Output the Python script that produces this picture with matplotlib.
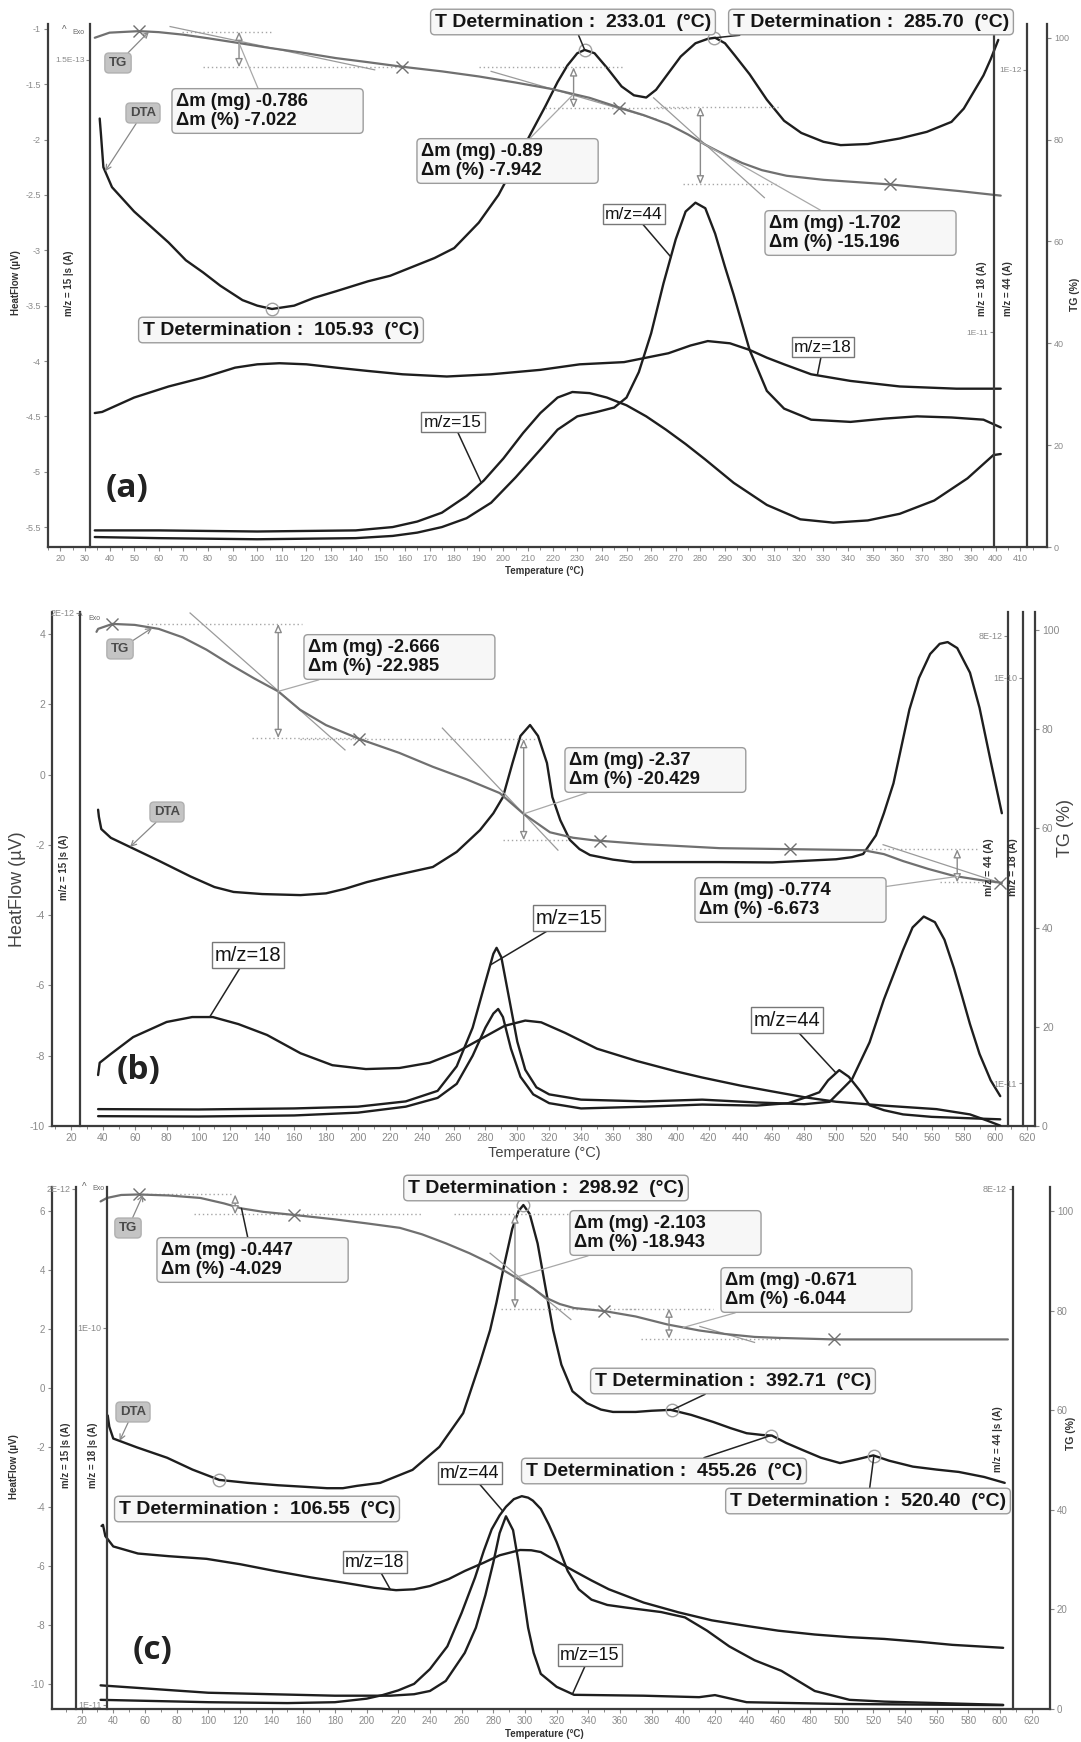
import numpy as np
import matplotlib
matplotlib.use("Agg")
import matplotlib.pyplot as plt

plt.rcParams['font.family'] = ['Liberation Sans', 'DejaVu Sans']
plt.rcParams['axes.unicode_minus'] = False

# ======================= DATA =======================
# ---------- panel (a) ----------
a_dta_T = [36, 36.5, 37.5, 41, 50, 57, 64, 71, 78, 85, 94, 100, 106, 115, 123, 132, 145, 154, 163, 172,
           180, 190, 198, 204, 211, 217, 222, 226, 230, 233, 237, 242, 248, 253, 258, 262, 267, 272, 278,
           283, 286, 290, 294, 300, 307, 314, 321, 330, 337, 348, 361, 372, 382, 387, 391, 395, 398, 401]
a_dta = [-1.81, -1.95, -2.25, -2.43, -2.65, -2.79, -2.93, -3.09, -3.2, -3.32, -3.45, -3.5, -3.53, -3.5,
         -3.43, -3.37, -3.28, -3.23, -3.15, -3.07, -2.98, -2.75, -2.5, -2.25, -1.95, -1.7, -1.48, -1.33,
         -1.22, -1.19, -1.22, -1.35, -1.52, -1.6, -1.62, -1.55, -1.4, -1.25, -1.13, -1.09, -1.08, -1.13,
         -1.24, -1.41, -1.64, -1.83, -1.94, -2.02, -2.05, -2.04, -1.99, -1.93, -1.84, -1.72, -1.57, -1.42,
         -1.27, -1.1]
a_tg_T = [34, 40, 52, 60, 70, 80, 92, 105, 118, 132, 145, 159, 175, 190, 205, 220, 235, 247, 257, 267,
          275, 282, 290, 297, 305, 315, 330, 345, 357, 370, 385, 402]
a_tg = [100.0, 101.0, 101.3, 101.1, 100.6, 99.9, 99.0, 98.0, 97.1, 96.0, 95.2, 94.3, 93.4, 92.4, 91.2,
        89.9, 88.2, 86.3, 84.8, 83.0, 81.0, 79.0, 77.0, 75.4, 74.0, 72.9, 72.1, 71.6, 71.2, 70.6, 69.9, 69.0]
a_m15_T = [34, 60, 100, 140, 155, 165, 175, 185, 192, 200, 208, 215, 222, 228, 235, 242, 250, 258, 266,
           274, 282, 293.5, 307, 320.6, 334, 348, 361, 375, 388.5, 399, 402]
a_m15 = [-5.53, -5.53, -5.54, -5.53, -5.5, -5.45, -5.37, -5.22, -5.08, -4.88, -4.65, -4.47, -4.33, -4.28,
         -4.29, -4.33, -4.4, -4.5, -4.62, -4.75, -4.89, -5.10, -5.30, -5.43, -5.46, -5.44, -5.38, -5.26,
         -5.06, -4.85, -4.84]
a_m44_T = [34, 60, 100, 140, 155, 165, 175, 185, 195, 205, 215, 222, 230, 238, 245, 250, 255, 260, 265,
           270, 274, 278, 282, 286, 290, 293.5, 300, 307, 314, 325, 341, 355, 368, 382, 395, 402]
a_m44 = [-5.59, -5.6, -5.61, -5.6, -5.58, -5.55, -5.5, -5.42, -5.28, -5.05, -4.8, -4.62, -4.5, -4.46,
         -4.42, -4.33, -4.1, -3.75, -3.3, -2.9, -2.65, -2.57, -2.62, -2.85, -3.15, -3.40, -3.90, -4.27,
         -4.43, -4.53, -4.55, -4.52, -4.50, -4.51, -4.53, -4.60]
a_m18_T = [34, 37, 50, 64, 78, 91, 100, 109, 120, 132, 145, 159, 177, 195, 215, 231, 249, 267, 276, 283,
           292, 300, 307, 314, 325, 341, 361, 384, 402]
a_m18 = [-4.47, -4.46, -4.33, -4.23, -4.15, -4.06, -4.03, -4.02, -4.03, -4.06, -4.09, -4.12, -4.14, -4.12,
         -4.08, -4.03, -4.01, -3.93, -3.86, -3.82, -3.84, -3.90, -3.97, -4.03, -4.12, -4.18, -4.23, -4.25,
         -4.25]
a_tdet = [233.01, 285.70, 105.93]
a_tg_marks = [52, 159, 247, 357]
a_step_T = [92.6, 228.5, 280]
a_step_top = [101.2, 94.2, 86.4]
a_step_bot = [94.2, 86.2, 71.2]
a_dm_mg = ['-0.786', '-0.89', '-1.702']
a_dm_pct = ['-7.022', '-7.942', '-15.196']
a_tan_T = [(64.6, 147.7), (195, 262), (261, 306)]
a_tan_TG = [(102.2, 93.7), (93.4, 84.0), (88.2, 68.6)]
a_hf_ticks = [-1, -1.5, -2, -2.5, -3, -3.5, -4, -4.5, -5, -5.5]
a_hf_labels = ['-1', '-1.5', '-2', '-2.5', '-3', '-3.5', '-4', '-4.5', '-5', '-5.5']
a_x_ticks = list(range(20, 411, 10))

# ---------- panel (b) ----------
b_dta_T = [37, 37.5, 39, 45, 57, 75, 95, 110, 122, 140, 164, 180, 192, 205.6, 220, 235, 247, 262, 276.6,
           285, 291, 297, 302, 308, 313, 318.6, 322, 327, 333, 339, 345.6, 360, 372.6, 427, 460, 500, 510,
           517, 525, 530, 536, 541, 546, 552, 559, 565, 570, 576, 584, 590, 597, 604]
b_dta = [-1.0, -1.2, -1.55, -1.8, -2.06, -2.45, -2.9, -3.2, -3.34, -3.4, -3.43, -3.38, -3.25, -3.06,
         -2.9, -2.75, -2.63, -2.2, -1.58, -1.1, -0.64, 0.33, 1.1, 1.41, 1.1, 0.33, -0.64, -1.3, -1.86,
         -2.12, -2.29, -2.42, -2.49, -2.49, -2.5, -2.41, -2.35, -2.26, -1.73, -1.1, -0.25, 0.8, 1.85,
         2.75, 3.43, 3.72, 3.77, 3.6, 2.9, 1.9, 0.38, -1.1]
b_tg_T = [36, 37, 46, 60, 75, 90, 105, 120, 135, 150, 163.7, 180, 201, 226, 247, 268, 289, 303.6, 320.5,
          335, 347.5, 380, 427, 471, 517, 530, 542, 558, 574, 590, 604]
b_tg = [99.6, 100.2, 101.2, 101.0, 100.2, 98.5, 96.0, 93.0, 90.2, 87.6, 83.9, 80.8, 78.0, 75.2, 72.4,
        69.9, 67.1, 63.0, 59.2, 58.1, 57.6, 56.8, 56.0, 55.8, 55.6, 54.8, 53.4, 51.8, 50.4, 49.6, 49.0]
b_m18_T = [37, 38, 45, 59, 80, 96, 109, 125, 143, 164, 184, 205, 226, 245, 262, 278, 292, 305, 315, 330,
           350, 375, 400, 416, 440, 458, 480, 500, 530, 563, 584, 595, 603]
b_m18 = [-8.55, -8.2, -7.95, -7.47, -7.04, -6.9, -6.9, -7.1, -7.41, -7.93, -8.27, -8.38, -8.35, -8.2,
         -7.9, -7.5, -7.15, -7.0, -7.05, -7.35, -7.8, -8.15, -8.45, -8.62, -8.85, -9.0, -9.18, -9.31, -9.42,
         -9.52, -9.67, -9.85, -9.99]
b_m15_T = [37, 100, 160, 200, 230, 250, 262, 272, 280, 285, 287, 290, 295, 300, 305, 312, 320, 340, 380,
           416, 450, 480, 496, 510, 521, 530, 542, 548, 555, 562, 568, 574, 579, 584, 590, 597, 603]
b_m15 = [-9.52, -9.53, -9.5, -9.45, -9.3, -9.0, -8.3, -7.2, -5.9, -5.1, -4.93, -5.2, -6.4, -7.6, -8.4,
         -8.9, -9.1, -9.25, -9.3, -9.25, -9.33, -9.38, -9.31, -8.67, -7.62, -6.4, -4.99, -4.35, -4.04,
         -4.2, -4.7, -5.52, -6.3, -7.1, -7.95, -8.7, -9.15]
b_m44_T = [37, 100, 160, 200, 230, 250, 262, 272, 280, 285, 288, 291, 296, 302, 310, 320, 340, 380, 416,
           450, 470, 480, 489.5, 495, 502, 508, 515, 521, 530, 542, 560, 584, 603]
b_m44 = [-9.72, -9.73, -9.7, -9.62, -9.45, -9.2, -8.8, -8.0, -7.2, -6.8, -6.67, -6.9, -7.8, -8.6, -9.1,
         -9.35, -9.5, -9.45, -9.39, -9.42, -9.35, -9.2, -9.04, -8.7, -8.41, -8.6, -9.0, -9.41, -9.55,
         -9.67, -9.74, -9.78, -9.81]
b_tg_marks = [46, 201, 352, 471, 603]
b_step_T = [150, 304, 576]
b_step_top = [101.2, 78.0, 55.8]
b_step_bot = [78.2, 57.6, 49.1]
b_dm_mg = ['-2.666', '-2.37', '-0.774']
b_dm_pct = ['-22.985', '-20.429', '-6.673']
b_tan_T = [(94.7, 191.9), (253, 325.5), (529.5, 604)]
b_tan_TG = [(103.4, 75.8), (80.2, 55.6), (56.7, 48.9)]
b_hf_ticks = [4, 2, 0, -2, -4, -6, -8, -10]
b_hf_labels = ['4', '2', '0', '-2', '-4', '-6', '-8', '-10']
b_x_ticks = list(range(20, 621, 20))

# ---------- panel (c) ----------
c_dta_T = [36.5, 37.5, 40, 55, 74, 90, 107, 125, 144, 160, 175, 185, 194, 208.6, 229, 246, 261, 271.6,
           278, 282, 287, 292, 296, 299, 303, 308, 313, 317.8, 323, 330, 339, 348, 355.6, 370, 380, 392,
           405, 419, 430, 440, 450, 456, 465, 475, 487, 499, 510, 520, 530, 545, 560, 574, 590, 603]
c_dta = [-0.92, -1.3, -1.7, -2.0, -2.35, -2.75, -3.1, -3.2, -3.28, -3.33, -3.38, -3.38, -3.3, -3.2, -2.76,
         -1.98, -0.84, 0.86, 1.97, 2.9, 4.2, 5.4, 6.0, 6.2, 5.9, 4.9, 3.4, 1.97, 0.8, -0.1, -0.5, -0.72,
         -0.8, -0.8, -0.76, -0.73, -0.9, -1.14, -1.35, -1.52, -1.58, -1.6, -1.85, -2.08, -2.35, -2.53,
         -2.4, -2.27, -2.45, -2.65, -2.75, -2.83, -3.0, -3.2]
c_tg_T = [32, 36, 45, 56, 75, 95, 110, 121, 135, 154, 180, 200, 221, 235, 250, 265, 278, 288, 296, 305,
          313, 322, 331, 350, 370, 390, 410, 426, 445, 461, 495, 605]
c_tg = [101.9, 102.6, 103.2, 103.3, 103.1, 102.6, 101.5, 100.5, 99.8, 99.2, 98.3, 97.5, 96.6, 95.3, 93.5,
        91.5, 89.5, 87.8, 86.3, 84.5, 82.6, 81.3, 80.5, 79.9, 78.8, 77.2, 76.0, 75.3, 74.7, 74.5, 74.2, 74.2]
c_m18_T = [32.6, 33.5, 35, 40, 55.6, 75, 98.9, 120, 142, 165, 186, 205, 218.6, 230, 240, 252, 262, 274,
           284, 297, 304, 310, 320, 331, 342, 353, 375, 397, 418, 440, 460, 483, 505, 527, 550, 570, 602]
c_m18 = [-4.66, -4.62, -5.0, -5.35, -5.59, -5.68, -5.77, -5.95, -6.18, -6.4, -6.58, -6.75, -6.83, -6.8,
         -6.69, -6.45, -6.18, -5.9, -5.65, -5.47, -5.48, -5.54, -5.85, -6.18, -6.5, -6.8, -7.25, -7.58,
         -7.85, -8.04, -8.2, -8.33, -8.42, -8.48, -8.58, -8.68, -8.78]
c_m44_T = [32, 100, 150, 180, 200, 210, 220, 230, 240, 251, 260, 268.5, 274, 279, 284, 288, 293, 298,
           302, 305, 310, 315, 320, 327, 334, 342, 352, 364, 386, 401, 415, 429, 445, 462, 483, 505, 527, 602]
c_m44 = [-10.54, -10.62, -10.65, -10.62, -10.5, -10.38, -10.22, -10.0, -9.5, -8.73, -7.6, -6.4, -5.5,
         -4.77, -4.3, -4.01, -3.75, -3.65, -3.7, -3.8, -4.08, -4.6, -5.2, -6.18, -6.8, -7.15, -7.33,
         -7.42, -7.57, -7.75, -8.2, -8.73, -9.2, -9.56, -10.24, -10.54, -10.6, -10.71]
c_m15_T = [32, 100, 180, 215, 230, 240, 250, 262, 269, 275, 280, 284, 288, 292.5, 296, 299, 302, 305.5,
           310, 320, 331, 375, 410, 420, 440, 500, 602]
c_m15 = [-10.05, -10.3, -10.4, -10.4, -10.35, -10.24, -9.9, -8.95, -8.1, -7.0, -5.9, -4.9, -4.33, -4.8,
         -5.9, -7.0, -8.1, -8.95, -9.66, -10.1, -10.37, -10.4, -10.45, -10.38, -10.62, -10.68, -10.72]
c_tdet = [298.92, 392.71, 455.26, 520.40, 106.55]
c_tg_marks = [56, 154, 350, 495]
c_step_T = [117, 293.7, 391]
c_step_top = [103.3, 99.3, 80.4]
c_step_bot = [99.3, 80.4, 74.35]
c_dm_mg = ['-0.447', '-2.103', '-0.671']
c_dm_pct = ['-4.029', '-18.943', '-6.044']
c_tan_T = [(278, 329), (410.5, 445)]
c_tan_TG = [(91.5, 78.2), (76.8, 73.6)]
c_hf_ticks = [6, 4, 2, 0, -2, -4, -6, -8, -10]
c_hf_labels = ['6', '4', '2', '0', '-2', '-4', '-6', '-8', '-10']
c_x_ticks = list(range(20, 621, 20))

tg_ticks = [0, 20, 40, 60, 80, 100]
tg_labels = ['0', '20', '40', '60', '80', '100']

# ======================= FIGURE =======================
W, H = 1081, 1742
fig = plt.figure(figsize=(W / 100, H / 100), dpi=100)
fig.patch.set_facecolor('white')

K = '#1e1e1e'
TGC = '#707070'
TICK = '#8a8a8a'
SP = '#3c3c3c'
TDS = 14          # T Determination font size
DMS = 13.2        # mass-loss font size


def fp(x, y):
    return (x, H - y)


def make_panel(box, xlim, hf_lim, tg_lim, hf_ticks, hf_labels, xticks, xminor, tsize):
    l, t, r, b = box
    ax = fig.add_axes([l / W, 1 - b / H, (r - l) / W, (b - t) / H])
    ax.set_xlim(xlim)
    ax.set_ylim(hf_lim)
    ax.patch.set_visible(False)
    for s in ('top', 'right'):
        ax.spines[s].set_visible(False)
    for s in ('left', 'bottom'):
        ax.spines[s].set_color(SP)
        ax.spines[s].set_linewidth(1.6)
    ax.set_yticks(hf_ticks)
    ax.set_yticklabels(hf_labels)
    ax.set_xticks(xticks)
    ax.set_xticklabels([str(v) for v in xticks])
    ax.set_xticks(xminor, minor=True)
    ax.tick_params(axis='both', which='major', labelsize=tsize, labelcolor=TICK, color=TICK,
                   length=3, width=0.8, direction='out', pad=2)
    ax.tick_params(axis='x', which='minor', length=2, width=0.7, color=TICK)
    tg = ax.twinx()
    tg.set_ylim(tg_lim)
    for s in ('top', 'left', 'bottom'):
        tg.spines[s].set_visible(False)
    tg.spines['right'].set_color(SP)
    tg.spines['right'].set_linewidth(1.6)
    tg.set_yticks(tg_ticks)
    tg.set_yticklabels(tg_labels)
    tg.tick_params(axis='y', labelsize=tsize, labelcolor=TICK, color=TICK, length=3, width=0.8, pad=2)
    return ax, tg


def ms_axis(ax, xpos, ticks, labels, tsize):
    s = ax.twinx()
    s.set_ylim(ax.get_ylim())
    for k in ('top', 'right', 'bottom'):
        s.spines[k].set_visible(False)
    s.spines['left'].set_visible(True)
    s.spines['left'].set_position(('data', xpos))
    s.spines['left'].set_color(SP)
    s.spines['left'].set_linewidth(1.6)
    s.yaxis.tick_left()
    s.set_yticks(ticks)
    s.set_yticklabels(labels)
    s.tick_params(axis='y', labelsize=tsize, labelcolor=TICK, color=TICK, length=3, width=0.8, pad=1)
    return s


def curve(ax, T, v, color=K, lw=1.7):
    ax.plot(T, v, color=color, lw=lw, solid_joinstyle='round', solid_capstyle='round', zorder=3)


def vtext(x, y, s, size, weight='bold', color='#333'):
    fig.text(x / W, 1 - y / H, s, rotation=90, ha='center', va='center', fontsize=size,
             fontweight=weight, color=color)


def htext(x, y, s, size, weight='bold', color='#333', family=None, ha='center'):
    kw = {}
    if family:
        kw['family'] = family
    fig.text(x / W, 1 - y / H, s, ha=ha, va='center', fontsize=size, fontweight=weight, color=color, **kw)


def ann(top_ax, src_ax, text, xy, pos, size, weight='bold', ha='center', fc='#f7f7f7', ec='#9c9c9c',
        style='round,pad=0.22', lc='#222222', lw=1.1, arrow='-', tcolor='#141414', ls=1.2):
    props = None
    if xy is not None:
        props = dict(arrowstyle=arrow, color=lc, lw=lw, shrinkA=0, shrinkB=0)
    top_ax.annotate(text, xy=xy if xy is not None else fp(*pos),
                    xycoords=src_ax.transData if xy is not None else 'figure pixels',
                    xytext=fp(*pos), textcoords='figure pixels', ha=ha, va='center', fontsize=size,
                    fontweight=weight, color=tcolor, linespacing=ls,
                    bbox=dict(boxstyle=style, fc=fc, ec=ec, lw=1.0), arrowprops=props,
                    annotation_clip=False, zorder=10)


def tdet_text(t):
    return 'T Determination :  %.2f  (\u00b0C)' % t


def dm_text(mg, pct):
    return '\u0394m (mg) ' + mg + '          \n\u0394m (%) ' + pct


def mass_steps(tg, step_T, tops, bots, dot_top, dot_bot, tanT, tanV):
    for i in range(len(step_T)):
        tg.plot(dot_top[i], [tops[i], tops[i]], ls=(0, (1, 2)), color='#a6a6a6', lw=1.0, zorder=2)
        tg.plot(dot_bot[i], [bots[i], bots[i]], ls=(0, (1, 2)), color='#a6a6a6', lw=1.0, zorder=2)
        tg.annotate('', xy=(step_T[i], bots[i]), xytext=(step_T[i], tops[i]),
                    arrowprops=dict(arrowstyle='<|-|>,head_length=0.5,head_width=0.22', color='#8a8a8a',
                                    fc='white', lw=1.0, shrinkA=0, shrinkB=0))
    for tt, vv in zip(tanT, tanV):
        tg.plot(tt, vv, color='#9a9a9a', lw=0.9, zorder=2)


def markers(ax, tg, tdet, dta_T, dta, marks, tg_T, tgv):
    ax.plot(tdet, np.interp(tdet, dta_T, dta), 'o', mfc='none', mec='#a0a0a0', ms=9, mew=1.0, zorder=4)
    tg.plot(marks, np.interp(marks, tg_T, tgv), 'x', color=TGC, ms=9, mew=1.0, zorder=4)


def exo(x, y, size=5):
    htext(x, y, '^', 7, weight='normal', color='#666')
    htext(x + 14, y + 2, 'Exo', size, weight='normal', color='#666')


MZ = dict(weight='normal', style='square,pad=0.15', fc='white', ec='#777')
TAG = dict(fc='#c4c4c4', ec='#b0b0b0', style='round,pad=0.3', lc='#888', lw=0.9, arrow='->',
           tcolor='#4a4a4a')

# ---------------- panel (a) ----------------
axA, tgA = make_panel((48, 24, 1047, 547), (15.95, 420.8), (-5.68, -0.956), (0, 102.7),
                      a_hf_ticks, a_hf_labels, a_x_ticks, list(range(15, 416, 5)), 6.5)
ms_axis(axA, 32.2, [-1.28], ['1.5E-13'], 6)
ms_axis(axA, 399.3, [-3.74], ['1E-11'], 6)
topA = ms_axis(axA, 412.7, [-1.37], ['1E-12'], 6)
curve(axA, a_m15_T, a_m15)
curve(axA, a_m44_T, a_m44)
curve(axA, a_m18_T, a_m18)
curve(axA, a_dta_T, a_dta)
curve(tgA, a_tg_T, a_tg, color=TGC, lw=1.6)
mass_steps(tgA, a_step_T, a_step_top, a_step_bot,
           [(69.5, 106), (190, 249), (262, 312)], [(78, 158.7), (217, 276), (273, 312)], a_tan_T, a_tan_TG)
markers(axA, tgA, a_tdet, a_dta_T, a_dta, a_tg_marks, a_tg_T, a_tg)

for i, (pos, tt) in enumerate(zip([(176, 111), (421, 161), (769, 233)], a_step_T)):
    ann(topA, tgA, dm_text(a_dm_mg[i], a_dm_pct[i]), (tt, np.interp(tt, a_tg_T, a_tg)), pos, DMS,
        ha='left', lc='#a8a8a8', lw=0.9)
ann(topA, axA, tdet_text(a_tdet[0]), (a_tdet[0], np.interp(a_tdet[0], a_dta_T, a_dta)), (573, 22), TDS)
ann(topA, axA, tdet_text(a_tdet[1]), (a_tdet[1], np.interp(a_tdet[1], a_dta_T, a_dta)), (871, 22), TDS)
ann(topA, axA, tdet_text(a_tdet[2]), None, (281, 330), TDS)
ann(topA, axA, 'm/z=44', (268, np.interp(268, a_m44_T, a_m44)), (634, 214), 12.5, **MZ)
ann(topA, axA, 'm/z=18', (327.5, np.interp(327.5, a_m18_T, a_m18)), (823, 347), 12.5, **MZ)
ann(topA, axA, 'm/z=15', (191, np.interp(191, a_m15_T, a_m15)), (453, 422), 12.5, **MZ)
ann(topA, tgA, 'TG', (56, np.interp(56, a_tg_T, a_tg)), (118, 63), 9.5, **TAG)
ann(topA, axA, 'DTA', (38.2, np.interp(38.2, a_dta_T, a_dta)), (143, 113), 9.5, **TAG)
htext(127, 489, '(a)', 24, family='Open Sans', color='#222')
vtext(16, 283, 'HeatFlow (\u00b5V)', 7)
vtext(69, 283, 'm/z = 15 |s (A)', 7)
vtext(982, 289, 'm/z = 18 (A)', 7)
vtext(1008, 289, 'm/z = 44 (A)', 7)
vtext(1075, 294, 'TG (%)', 7.5)
htext(544, 571, 'Temperature (\u00b0C)', 7)
exo(64, 30)

# ---------------- panel (b) ----------------
axB, tgB = make_panel((52, 612, 1035, 1126), (8.08, 624.8), (-10, 4.626), (0, 103.6),
                      b_hf_ticks, b_hf_labels, b_x_ticks, list(range(10, 625, 10)), 7.5)
ms_axis(axB, 25.6, [4.6], ['2E-12'], 6.5)
ms_axis(axB, 608, [3.95], ['8E-12'], 6.5)
topB = ms_axis(axB, 617, [2.75, -8.78], ['1E-10', '1E-11'], 6.5)
curve(axB, b_m15_T, b_m15)
curve(axB, b_m44_T, b_m44)
curve(axB, b_m18_T, b_m18)
curve(axB, b_dta_T, b_dta)
curve(tgB, b_tg_T, b_tg, color=TGC, lw=1.6)
mass_steps(tgB, b_step_T, b_step_top, b_step_bot,
           [(67.7, 165), (163.7, 312), (517, 589)], [(133.5, 205), (291, 331), (565, 604)], b_tan_T, b_tan_TG)
markers(axB, tgB, [], b_dta_T, b_dta, b_tg_marks, b_tg_T, b_tg)
for i, (pos, tt) in enumerate(zip([(308, 657), (569, 770), (699, 900)], b_step_T)):
    ann(topB, tgB, dm_text(b_dm_mg[i], b_dm_pct[i]), (tt, np.interp(tt, b_tg_T, b_tg)), pos, DMS,
        ha='left', lc='#a8a8a8', lw=0.9)
ann(topB, axB, 'm/z=18', (107, np.interp(107, b_m18_T, b_m18)), (248, 955), 14.5, **MZ)
ann(topB, axB, 'm/z=15', (283, np.interp(283, b_m15_T, b_m15)), (569, 918), 14.5, **MZ)
ann(topB, axB, 'm/z=44', (500, np.interp(500, b_m44_T, b_m44)), (787, 1020), 14.5, **MZ)
ann(topB, tgB, 'TG', (71, np.interp(71, b_tg_T, b_tg)), (120, 649), 9.5, **TAG)
ann(topB, axB, 'DTA', (57, np.interp(57, b_dta_T, b_dta)), (167, 812), 9.5, **TAG)
htext(139, 1071, '(b)', 24, family='Open Sans', color='#222')
vtext(18, 889, 'HeatFlow (\u00b5V)', 13, weight='normal', color='#444')
vtext(64, 867, 'm/z = 15 |s (A)', 7)
vtext(989, 867, 'm/z = 44 (A)', 7.5)
vtext(1013, 867, 'm/z = 18 (A)', 7.5)
vtext(1066, 828, 'TG (%)', 13, weight='normal', color='#444')
htext(544, 1153, 'Temperature (\u00b0C)', 10.5, weight='normal', color='#444')
exo(80, 617)

# ---------------- panel (c) ----------------
axC, tgC = make_panel((52, 1187, 1050, 1709), (1.31, 631.6), (-10.85, 6.81), (0, 104.8),
                      c_hf_ticks, c_hf_labels, c_x_ticks, list(range(10, 630, 10)), 7)
ms_axis(axC, 16.5, [6.75], ['2E-12'], 6.5)
ms_axis(axC, 36.1, [2.05, -10.7], ['1E-10', '1E-11'], 6.5)
topC = ms_axis(axC, 608, [6.75], ['8E-12'], 6.5)
curve(axC, c_m15_T, c_m15)
curve(axC, c_m44_T, c_m44)
curve(axC, c_m18_T, c_m18)
curve(axC, c_dta_T, c_dta)
curve(tgC, c_tg_T, c_tg, color=TGC, lw=1.6)
mass_steps(tgC, c_step_T, c_step_top, c_step_bot,
           [(55.6, 115), (255, 330), (363, 419)], [(91, 235), (285, 370), (373, 461)], c_tan_T, c_tan_TG)
markers(axC, tgC, c_tdet, c_dta_T, c_dta, c_tg_marks, c_tg_T, c_tg)
for i, (pos, tt) in enumerate(zip([(161, 1260), (574, 1233), (725, 1290)], [121, 294, 400])):
    ann(topC, tgC, dm_text(c_dm_mg[i], c_dm_pct[i]), (tt, np.interp(tt, c_tg_T, c_tg)), pos, DMS,
        ha='left', lc='#222' if i == 0 else '#a8a8a8', lw=1.1 if i == 0 else 0.9)
tpos = [(546, 1188), (733, 1381), (664, 1471), (868, 1501), (257, 1509)]
for i, tt in enumerate(c_tdet):
    xy = None if i in (0, 4) else (tt, np.interp(tt, c_dta_T, c_dta))
    ann(topC, axC, tdet_text(tt), xy, tpos[i], TDS)
ann(topC, axC, 'm/z=44', (286, np.interp(286, c_m44_T, c_m44)), (470, 1473), 13, **MZ)
ann(topC, axC, 'm/z=18', (215, np.interp(215, c_m18_T, c_m18)), (375, 1562), 13, **MZ)
ann(topC, axC, 'm/z=15', (330, np.interp(330, c_m15_T, c_m15)), (590, 1655), 13, **MZ)
ann(topC, tgC, 'TG', (58.8, np.interp(58.8, c_tg_T, c_tg)), (128, 1228), 9.5, **TAG)
ann(topC, axC, 'DTA', (44, np.interp(44, c_dta_T, c_dta)), (133, 1412), 9.5, **TAG)
htext(153, 1650, '(c)', 24, family='Open Sans', color='#222')
vtext(14, 1467, 'HeatFlow (\u00b5V)', 7)
vtext(66, 1455, 'm/z = 15 |s (A)', 7)
vtext(93, 1455, 'm/z = 18 |s (A)', 7)
vtext(998, 1439, 'm/z = 44 |s (A)', 7)
vtext(1071, 1433, 'TG (%)', 7.5)
htext(544, 1734, 'Temperature (\u00b0C)', 7)
exo(84, 1187)

fig.savefig('out.png', dpi=100, facecolor='white')
